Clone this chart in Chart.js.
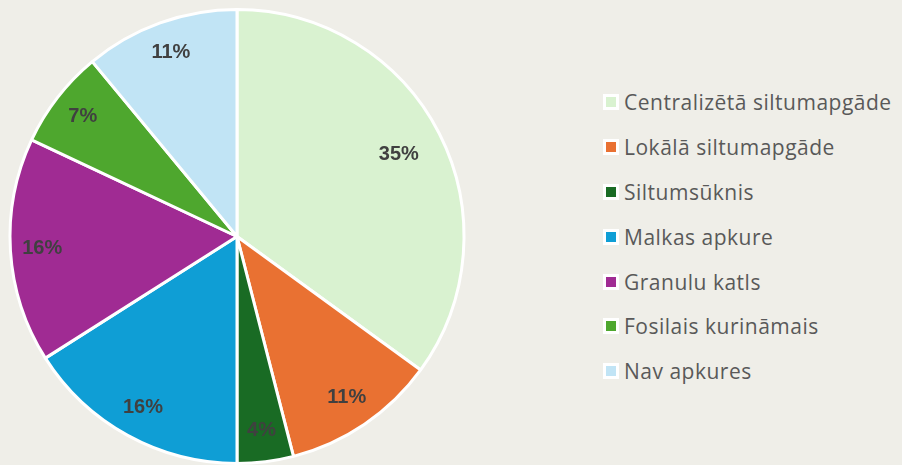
<!DOCTYPE html>
<html>
<head>
<meta charset="utf-8">
<script src="https://cdn.jsdelivr.net/npm/chart.js@4/dist/chart.umd.min.js"></script>
<style>
  html, body { margin: 0; padding: 0; background: #efeee8; }
  #wrap { position: relative; width: 902px; height: 465px; }
  #pieBox { position: absolute; left: 0; top: 0; width: 474px; height: 465px; }
  #legend { position: absolute; left: 603px; top: 80px; font-family: "Open Sans", sans-serif; font-size: 21px; letter-spacing: 0.5px; color: #595959; }
  .item { display: flex; align-items: center; height: 44.8px; }
  .box { width: 10px; height: 10px; border: 3px solid #fff; margin-right: 5px; }
</style>
</head>
<body>
<div id="wrap">
  <div id="pieBox"><canvas id="apkureChart"></canvas></div>
  <div id="legend"></div>
</div>
<script>
const kategorijas = [
  "Centralizētā siltumapgāde",
  "Lokālā siltumapgāde",
  "Siltumsūknis",
  "Malkas apkure",
  "Granulu katls",
  "Fosilais kurināmais",
  "Nav apkures"
];
const procenti = [35, 11, 4, 16, 16, 7, 11];
const krasas = ["#d9f2d0", "#e97132", "#196b24", "#0f9ed5", "#a02b93", "#4ea72e", "#c1e4f5"];

// uzraksti uz sektoriem
const procentuUzraksti = {
  id: "procentuUzraksti",
  afterDatasetsDraw(chart) {
    const ctx = chart.ctx;
    const meta = chart.getDatasetMeta(0);
    ctx.save();
    ctx.font = "bold 20px 'Liberation Sans', Arial, sans-serif";
    ctx.fillStyle = "#404040";
    ctx.textAlign = "center";
    ctx.textBaseline = "middle";
    meta.data.forEach((arc, i) => {
      const { x, y, startAngle, endAngle, outerRadius } = arc.getProps(["x", "y", "startAngle", "endAngle", "outerRadius"], true);
      const vidus = (startAngle + endAngle) / 2;
      const r = outerRadius * (i === 0 ? 0.8 : 0.86);
      ctx.fillText(procenti[i] + "%", x + Math.cos(vidus) * r, y + Math.sin(vidus) * r);
    });
    ctx.restore();
  }
};

const chart = new Chart(document.getElementById("apkureChart"), {
  type: "pie",
  data: {
    labels: kategorijas,
    datasets: [{
      data: procenti,
      backgroundColor: krasas,
      borderColor: "#ffffff",
      borderWidth: 3
    }]
  },
  options: {
    responsive: true,
    maintainAspectRatio: false,
    animation: false,
    layout: { padding: { top: 8, bottom: 0, left: 8, right: 8 } },
    plugins: {
      legend: { display: false },
      tooltip: { enabled: false }
    }
  },
  plugins: [procentuUzraksti]
});

// leģenda ar HTML
const legendEl = document.getElementById("legend");
kategorijas.forEach((nosaukums, i) => {
  const item = document.createElement("div");
  item.className = "item";
  const box = document.createElement("span");
  box.className = "box";
  box.style.background = krasas[i];
  const txt = document.createElement("span");
  txt.textContent = nosaukums;
  item.appendChild(box);
  item.appendChild(txt);
  legendEl.appendChild(item);
});
</script>
</body>
</html>
